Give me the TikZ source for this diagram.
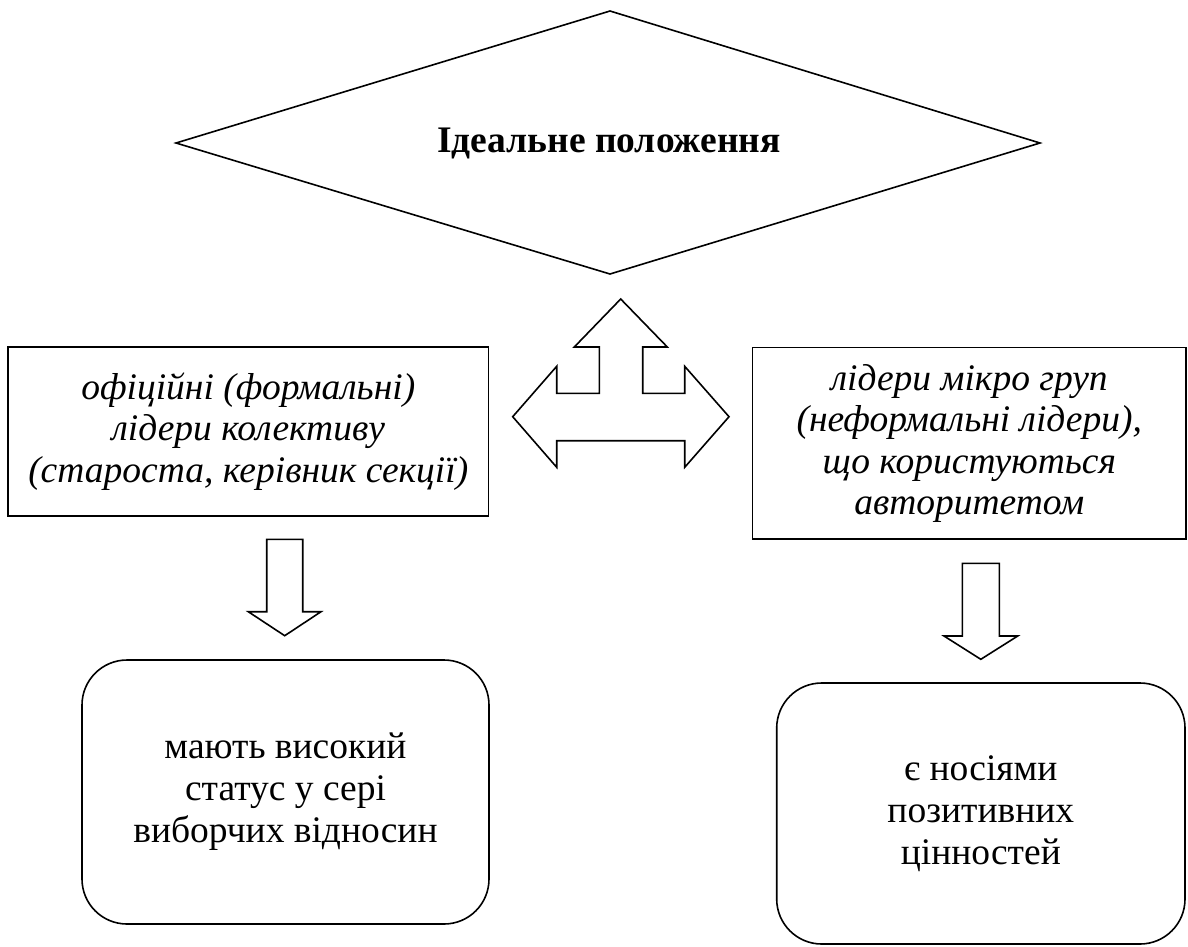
\documentclass[tikz,border=0pt]{standalone}
\usepackage{fontspec}
\setmainfont{Liberation Serif}
\tikzset{
  ln/.style={draw=black, line width=1.6pt},
  txt/.style={align=center, inner sep=0pt, font=\fontsize{37.5}{42}\selectfont},
  rectbox/.style={ln, txt, font=\itshape\fontsize{37.5}{41.5}\selectfont},
  roundbox/.style={ln, txt, rounded corners=45pt},
  diamtext/.style={inner sep=0pt, font=\bfseries\fontsize{37.5}{42}\selectfont},
  blockarrow/.style={ln, fill=white, line join=miter}
}
\begin{document}
\begin{tikzpicture}[x=1pt, y=-1pt]
\useasboundingbox (0,0) rectangle (1188,946);
\fill[white] (0,0) rectangle (1188,946);

% diamond
\coordinate (Dl) at (176,143);
\coordinate (Dt) at (610,11);
\coordinate (Dr) at (1040,143);
\coordinate (Db) at (610,274);
\draw[ln, line join=miter] (Dl) -- (Dt) -- (Dr) -- (Db) -- cycle;
\node[diamtext] (D) at (609,143) {Ідеальне положення};

\node[rectbox, minimum width=480.5pt, minimum height=169pt] (L) at (248.25,431.5)
  {офіційні (формальні)\\лідери колективу\\(староста, керівник секції)};
\node[rectbox, minimum width=433.5pt, minimum height=191.5pt] (R) at (969.25,443.25)
  {лідери мікро груп\\(неформальні лідери),\\що користуються\\авторитетом};

\node[roundbox, minimum width=407pt, minimum height=264pt] (LB) at (285.5,792)
  {мають високий\\статус у сері\\виборчих відносин};
\node[roundbox, minimum width=408.3pt, minimum height=261pt] (RB) at (980.85,813.5)
  {є носіями\\позитивних\\цінностей};

% three-way block arrow
\draw[blockarrow] (512.7,416.7) -- (556.7,366.3) -- (556.7,393.3) -- (599.3,393.3)
  -- (599.3,347) -- (574.3,347) -- (620.7,299) -- (667.3,347) -- (642.7,347)
  -- (642.7,393.3) -- (684.7,393.3) -- (684.7,366.3) -- (729,416.7)
  -- (684.7,467.3) -- (684.7,440.7) -- (556.7,440.7) -- (556.7,467.3) -- cycle;

% left down arrow
\draw[blockarrow] (266.7,539.3) -- (302.7,539.3) -- (302.7,611.7) -- (321,611.7)
  -- (284.7,635.7) -- (248.3,611.7) -- (266.7,611.7) -- cycle;

% right down arrow
\draw[blockarrow] (962.3,563.3) -- (999.3,563.3) -- (999.3,636) -- (1017.7,636)
  -- (980.8,659.3) -- (944,636) -- (962.3,636) -- cycle;
\end{tikzpicture}
\end{document}
